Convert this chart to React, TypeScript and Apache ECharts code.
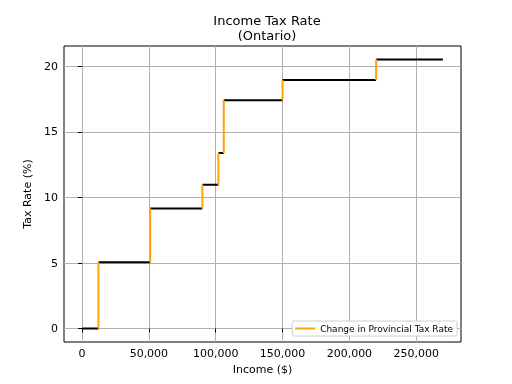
import React, { useEffect, useRef } from "react";
import * as echarts from "echarts";

const breakpoints = [0, 12300, 51000, 90000, 102000, 106000, 150000, 220000, 270000];
const rates = [0, 5.05, 9.15, 10.98, 13.39, 17.41, 18.97, 20.53];
const xTicks = [0, 50000, 100000, 150000, 200000, 250000];
const yTicks = [0, 5, 10, 15, 20];
const legendLabel = "Change in Provincial Tax Rate";

export default function App() {
  const ref = useRef<HTMLDivElement>(null);
  useEffect(() => {
    if (!ref.current) return;
    const chart = echarts.init(ref.current, undefined, { renderer: "svg" });
    const flat: any[] = [];
    for (let i = 0; i < rates.length; i++) {
      flat.push([breakpoints[i], rates[i]]);
      flat.push([breakpoints[i + 1], rates[i]]);
      flat.push(null);
    }
    const risers: any[] = [];
    for (let i = 0; i < rates.length - 1; i++) {
      risers.push([breakpoints[i + 1], rates[i]]);
      risers.push([breakpoints[i + 1], rates[i + 1]]);
      risers.push(null);
    }
    const xSpan = breakpoints[breakpoints.length - 1] - breakpoints[0];
    const yMax = Math.max(...rates);
    const font = "DejaVu Sans";
    chart.setOption({
      animation: false,
      textStyle: { fontFamily: font },
      title: {
        text: "Income Tax Rate\n(Ontario)",
        left: 262,
        textAlign: "center",
        top: 8,
        textStyle: { fontSize: 13, fontWeight: "normal", color: "#000", lineHeight: 15, fontFamily: font },
      },
      grid: { left: 64, right: 51, top: 46, bottom: 42, show: true, borderColor: "#000", borderWidth: 1, backgroundColor: "transparent" },
      legend: {
        right: 55,
        bottom: 48,
        orient: "vertical",
        data: [{ name: legendLabel, icon: "rect" }],
        itemWidth: 20,
        itemHeight: 2,
        itemGap: 2,
        padding: [3, 4, 3, 3],
        borderColor: "#d0d0d0",
        borderWidth: 1,
        borderRadius: 2,
        backgroundColor: "#fff",
        textStyle: { fontSize: 9, color: "#000", fontFamily: font },
      },
      xAxis: {
        type: "value",
        min: breakpoints[0] - xSpan * 0.05,
        max: breakpoints[breakpoints.length - 1] + xSpan * 0.05,
        splitNumber: 5,
        name: "Income ($)",
        nameLocation: "middle",
        nameGap: 20,
        nameTextStyle: { fontSize: 11, color: "#000", fontFamily: font },
        axisLine: { show: false },
        axisTick: { show: true, inside: false, length: 4, lineStyle: { color: "#000", width: 1 }, customValues: xTicks },
        axisLabel: {
          fontSize: 11,
          color: "#000",
          margin: 6,
          customValues: xTicks,
          formatter: (v: number) => v.toLocaleString("en-US"),
        },
        splitLine: { show: true, lineStyle: { color: "#b0b0b0", width: 1 } },
      },
      yAxis: {
        type: "value",
        min: -yMax * 0.05,
        max: yMax * 1.05,
        splitNumber: 5,
        name: "Tax Rate (%)",
        nameLocation: "middle",
        nameGap: 24,
        nameTextStyle: { fontSize: 11, color: "#000", fontFamily: font },
        axisLine: { show: false },
        axisTick: { show: true, inside: false, length: 4, lineStyle: { color: "#000", width: 1 }, customValues: yTicks },
        axisLabel: { fontSize: 11, color: "#000", margin: 6, customValues: yTicks },
        splitLine: { show: true, lineStyle: { color: "#b0b0b0", width: 1 } },
      },
      series: [
        {
          name: "rate",
          type: "line",
          data: flat,
          showSymbol: false,
          connectNulls: false,
          lineStyle: { color: "#000", width: 2 },
          itemStyle: { color: "#000" },
          z: 2,
        },
        {
          name: legendLabel,
          type: "line",
          data: risers,
          showSymbol: false,
          connectNulls: false,
          lineStyle: { color: "#FFA500", width: 2 },
          itemStyle: { color: "#FFA500" },
          z: 3,
        },
      ],
    });
    return () => chart.dispose();
  }, []);
  return <div ref={ref} style={{ position: "fixed", left: 0, top: 0, width: 512, height: 384 }} />;
}
